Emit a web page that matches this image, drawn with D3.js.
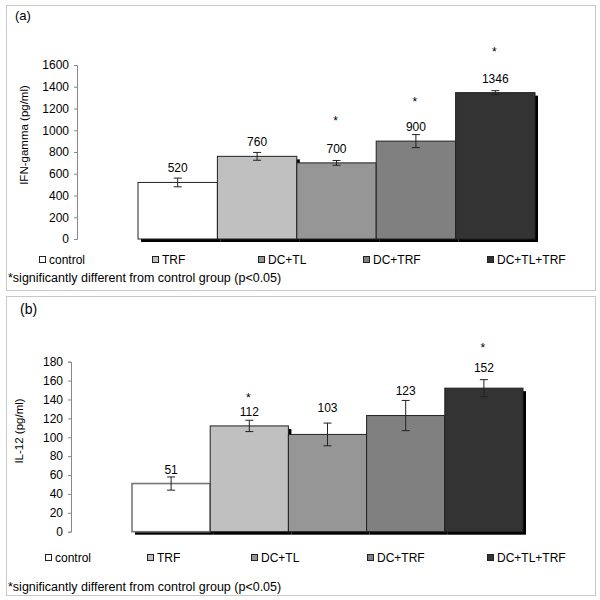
<!DOCTYPE html>
<html><head><meta charset="utf-8">
<script src="https://cdn.jsdelivr.net/npm/d3@7"></script>
<style>body{margin:0;background:#fff}svg{display:block}text{font-family:Arial,"Liberation Sans",sans-serif;fill:#000}</style>
</head><body>
<svg id="c" width="600" height="600"></svg>
<script>
// ---- data ----
const groups = ["control", "TRF", "DC+TL", "DC+TRF", "DC+TL+TRF"];
const colors = ["#ffffff", "#c0c0c0", "#969696", "#808080", "#333333"];
const ifnValues = [520, 760, 700, 900, 1346];
const ifnErrors = [40, 36, 22, 60, 18];
const ifnSig = [false, false, true, true, true];
const ifnTicks = [0, 200, 400, 600, 800, 1000, 1200, 1400, 1600];
const il12Values = [51, 112, 103, 123, 152];
const il12Errors = [7, 6, 12, 16, 9];
const il12Sig = [false, true, false, false, true];
const il12Ticks = [0, 20, 40, 60, 80, 100, 120, 140, 160, 180];
const footnote = "*significantly different from control group (p<0.05)";

// ---- layout ----
const panels = [
  {label:"(a)", labelX:15, labelY:19.5, labelSize:13, box:[6,5,589,285],
   yTitle:"IFN-gamma (pg/ml)", titleX:28, titleY:135,
   values:ifnValues, errors:ifnErrors, sig:ifnSig, ticks:ifnTicks, ymax:1600,
   yRange:[239,65], axisX:77, xRange:[138,535],
   labelOff:[10,10,10,10,10], starOff:[0,0,38,35,37],
   legendY:260, legendX:[39,152,258,363,487], footY:282, ctrlStroke:"#222", ctrlW:1},
  {label:"(b)", labelX:20, labelY:314, labelSize:14, box:[6,296,589,299],
   yTitle:"IL-12 (pg/ml)", titleX:23, titleY:431,
   values:il12Values, errors:il12Errors, sig:il12Sig, ticks:il12Ticks, ymax:180,
   yRange:[531.7,361.7], axisX:71, xRange:[132,523],
   labelOff:[9.5,10,22,21,16], starOff:[0,24,0,0,36],
   legendY:558, legendX:[45,147,251,367,487], footY:591, ctrlStroke:"#777", ctrlW:1.6}
];

const svg = d3.select("#c");

panels.forEach(p => {
  const g = svg.append("g");
  g.append("rect").attr("x",p.box[0]+0.5).attr("y",p.box[1]+0.5)
    .attr("width",p.box[2]).attr("height",p.box[3])
    .attr("fill","none").attr("stroke","#c8c8c8").attr("stroke-width",1);
  g.append("text").attr("x",p.labelX).attr("y",p.labelY)
    .style("font-size",p.labelSize+"px").text(p.label);

  const y = d3.scaleLinear().domain([0,p.ymax]).range(p.yRange);
  const x = d3.scaleBand().domain(groups).range(p.xRange).padding(0);

  // y axis
  const ax = g.append("g").attr("transform",`translate(${p.axisX},0)`)
    .call(d3.axisLeft(y).tickValues(p.ticks).tickSize(3).tickPadding(5).tickFormat(d3.format("d")));
  ax.select(".domain").attr("stroke","#888");
  ax.selectAll(".tick line").attr("stroke","#888");
  ax.selectAll(".tick text").style("font-size","12px").style("font-family","Arial, 'Liberation Sans', sans-serif").attr("fill","#000");

  g.append("text").attr("transform",`translate(${p.titleX},${p.titleY}) rotate(-90)`)
    .attr("text-anchor","middle").style("font-size","11.5px").text(p.yTitle);

  // shadows
  g.selectAll("rect.sh").data(groups).join("rect").attr("class","sh")
    .attr("x",d=>x(d)+3).attr("y",(d,i)=>y(p.values[i])+3)
    .attr("width",x.bandwidth()).attr("height",(d,i)=>y(0)-y(p.values[i]))
    .attr("fill","#000");
  // bars
  g.selectAll("rect.bar").data(groups).join("rect").attr("class","bar")
    .attr("x",d=>x(d)).attr("y",(d,i)=>y(p.values[i]))
    .attr("width",x.bandwidth()).attr("height",(d,i)=>y(0)-y(p.values[i]))
    .attr("fill",(d,i)=>colors[i])
    .attr("stroke",(d,i)=>i===0?p.ctrlStroke:"#222")
    .attr("stroke-width",(d,i)=>i===0?p.ctrlW:1);

  // error bars
  const eb = g.selectAll("g.eb").data(groups).join("g").attr("class","eb")
    .attr("stroke","#222").attr("stroke-width",1);
  const cx = d => x(d)+x.bandwidth()/2;
  eb.append("line").attr("x1",cx).attr("x2",cx)
    .attr("y1",(d,i)=>y(p.values[i]+p.errors[i])).attr("y2",(d,i)=>y(p.values[i]-p.errors[i]));
  eb.append("line").attr("x1",d=>cx(d)-4).attr("x2",d=>cx(d)+4)
    .attr("y1",(d,i)=>y(p.values[i]+p.errors[i])).attr("y2",(d,i)=>y(p.values[i]+p.errors[i]));
  eb.append("line").attr("x1",d=>cx(d)-4).attr("x2",d=>cx(d)+4)
    .attr("y1",(d,i)=>y(p.values[i]-p.errors[i])).attr("y2",(d,i)=>y(p.values[i]-p.errors[i]));

  // value labels
  g.selectAll("text.val").data(groups).join("text").attr("class","val")
    .attr("x",cx).attr("y",(d,i)=>y(p.values[i])-p.labelOff[i])
    .attr("text-anchor","middle").style("font-size","12px").text((d,i)=>p.values[i]);
  // stars
  g.selectAll("text.star").data(groups.filter((d,i)=>p.sig[i])).join("text").attr("class","star")
    .attr("x",d=>cx(d)-1).attr("y",d=>{const i=groups.indexOf(d);return y(p.values[i])-p.starOff[i];})
    .attr("text-anchor","middle").style("font-size","12px").text("*");

  // legend
  const lg = g.selectAll("g.lg").data(groups).join("g").attr("class","lg")
    .attr("transform",(d,i)=>`translate(${p.legendX[i]},${p.legendY})`);
  lg.append("rect").attr("x",0.5).attr("y",-3.5).attr("width",6).attr("height",6)
    .attr("fill",(d,i)=>colors[i]).attr("stroke","#222").attr("stroke-width",1);
  lg.append("text").attr("x",10).attr("y",4).style("font-size","12px").text(d=>d);

  g.append("text").attr("x",8).attr("y",p.footY).style("font-size","12.5px").text(footnote);
});
</script>
</body></html>
